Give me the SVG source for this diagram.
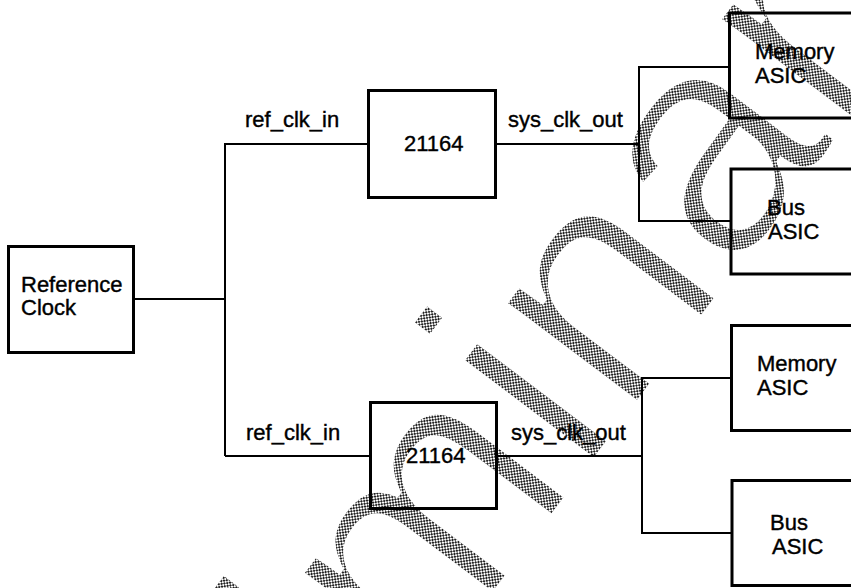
<svg xmlns="http://www.w3.org/2000/svg" width="851" height="588" viewBox="0 0 851 588">
<defs>
<pattern id="stip" width="4" height="4" patternUnits="userSpaceOnUse">
<rect x="0" y="0" width="2" height="2" fill="#222"/>
<rect x="2" y="2" width="2" height="2" fill="#222"/>
</pattern>
</defs>
<style>
.box{fill:none;stroke:#000;stroke-width:3}
.wire{fill:none;stroke:#000;stroke-width:2}
.t{font-family:"Liberation Sans",Arial,Helvetica,sans-serif;font-size:22px;fill:#000;stroke:#000;stroke-width:0.4}
.wm{font-family:"Liberation Sans",Arial,sans-serif;font-size:320px;fill:url(#stip);stroke:#fff;stroke-width:8}
</style>
<rect x="0" y="0" width="851" height="588" fill="#fff"/>
<g id="watermark">
<text class="wm" transform="translate(36,1204) rotate(-53)" x="0" y="0">Preliminary</text>
</g>
<g id="connectors">
<path class="wire" d="M135,299 H225"/>
<path class="wire" d="M225,143 V456"/>
<path class="wire" d="M225,144 H367"/>
<path class="wire" d="M225,456 H369"/>
<path class="wire" d="M497,144 H639"/>
<path class="wire" d="M729,67 H639 V221 H730"/>
<path class="wire" d="M498,456 H642"/>
<path class="wire" d="M731,378 H642 V533 H731"/>
</g>
<g id="refclock">
<rect class="box" x="8.5" y="246.5" width="125" height="106"/>
<text class="t" x="21" y="292">Reference</text>
<text class="t" x="21" y="315">Clock</text>
</g>
<g id="cpu1">
<rect class="box" x="368.5" y="90.5" width="127" height="107"/>
<text class="t" x="404" y="151">21164</text>
</g>
<g id="cpu2">
<rect class="box" x="370.5" y="402.5" width="126" height="106"/>
<text class="t" x="406" y="463">21164</text>
</g>
<g id="labels">
<text class="t" x="245" y="127">ref_clk_in</text>
<text class="t" x="508" y="127">sys_clk_out</text>
<text class="t" x="246" y="440">ref_clk_in</text>
<text class="t" x="511" y="440">sys_clk_out</text>
</g>
<g id="mem1">
<rect class="box" x="729.5" y="13" width="140" height="105"/>
<text class="t" x="755" y="59">Memory</text>
<text class="t" x="755" y="83">ASIC</text>
</g>
<g id="bus1">
<rect class="box" x="731" y="169" width="140" height="105"/>
<text class="t" x="767" y="215">Bus</text>
<text class="t" x="768" y="239">ASIC</text>
</g>
<g id="mem2">
<rect class="box" x="731.5" y="325.5" width="140" height="105"/>
<text class="t" x="757" y="371">Memory</text>
<text class="t" x="757" y="395">ASIC</text>
</g>
<g id="bus2">
<rect class="box" x="732" y="480.5" width="140" height="105"/>
<text class="t" x="770" y="530">Bus</text>
<text class="t" x="772" y="554">ASIC</text>
</g>
</svg>
